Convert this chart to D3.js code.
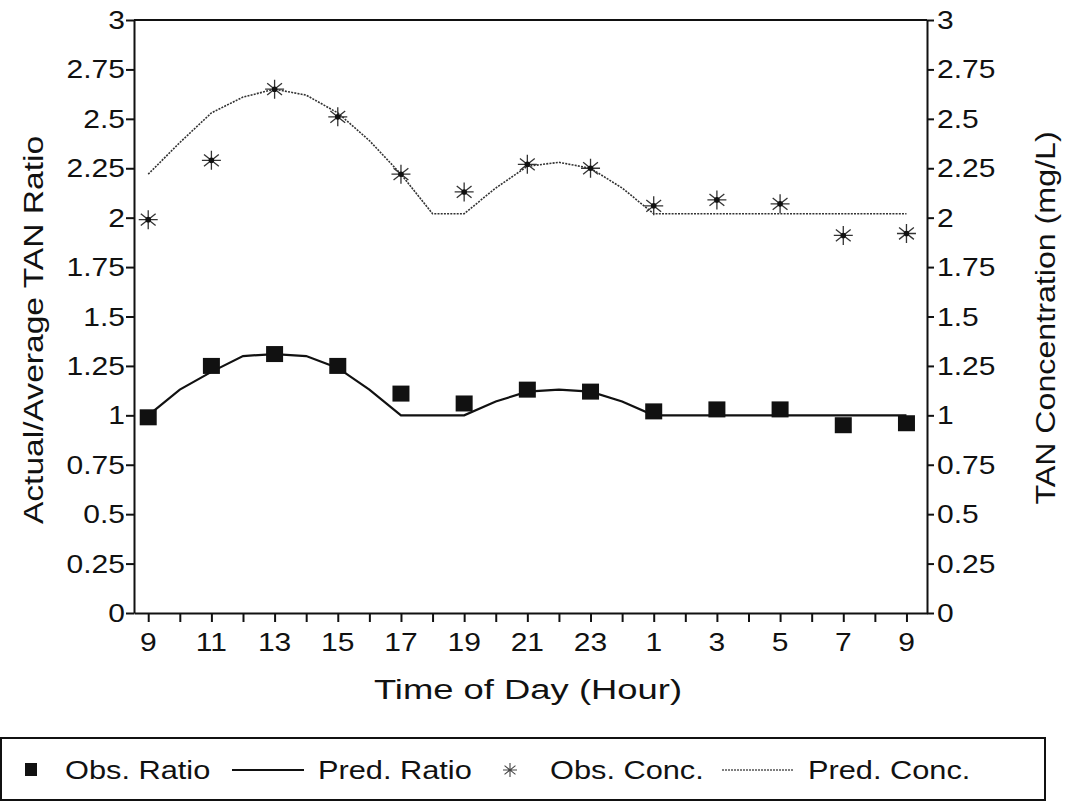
<!DOCTYPE html>
<html>
<head>
<meta charset="utf-8">
<script src="https://cdn.jsdelivr.net/npm/d3@7"></script>
<style>
  html, body { margin: 0; padding: 0; background: #fff; }
  svg text { font-family: "Liberation Sans", Arial, Helvetica, sans-serif; fill: #111; }
</style>
</head>
<body>
<svg id="chart" width="1065" height="806"></svg>
<script>
// Hours after 09:00 for the observations (every 2 h over one day)
const obsHours = [0, 2, 4, 6, 8, 10, 12, 14, 16, 18, 20, 22, 24];
const obsRatio = [0.99, 1.25, 1.31, 1.25, 1.11, 1.06, 1.13, 1.12, 1.02, 1.03, 1.03, 0.95, 0.96];
const obsConc  = [1.99, 2.29, 2.65, 2.51, 2.22, 2.13, 2.27, 2.25, 2.06, 2.09, 2.07, 1.91, 1.92];

// Hourly model predictions
const predHours = d3.range(0, 25);
const predRatio = [1.00, 1.13, 1.22, 1.30, 1.31, 1.30, 1.24, 1.13, 1.00, 1.00, 1.00, 1.07, 1.12,
                   1.13, 1.12, 1.07, 1.00, 1.00, 1.00, 1.00, 1.00, 1.00, 1.00, 1.00, 1.00];
const predConc  = [2.22, 2.38, 2.53, 2.61, 2.65, 2.62, 2.53, 2.39, 2.22, 2.02, 2.02, 2.15, 2.26,
                   2.28, 2.25, 2.15, 2.02, 2.02, 2.02, 2.02, 2.02, 2.02, 2.02, 2.02, 2.02];

// Axis ticks and labels
const xTickHours  = [0, 2, 4, 6, 8, 10, 12, 14, 16, 18, 20, 22, 24];
const xTickLabels = ["9", "11", "13", "15", "17", "19", "21", "23", "1", "3", "5", "7", "9"];
const xMinorHours = d3.range(1, 24, 2);
const yTicks      = [0, 0.25, 0.5, 0.75, 1, 1.25, 1.5, 1.75, 2, 2.25, 2.5, 2.75, 3];
const yTickLabels = ["0", "0.25", "0.5", "0.75", "1", "1.25", "1.5", "1.75", "2", "2.25", "2.5", "2.75", "3"];

const legendItems = [
  { key: "obsRatio",  label: "Obs. Ratio"  },
  { key: "predRatio", label: "Pred. Ratio" },
  { key: "obsConc",   label: "Obs. Conc."  },
  { key: "predConc",  label: "Pred. Conc." }
];

const svg = d3.select("#chart");
const pL = 134, pR = 927, pT = 20, pB = 613;
const FS = 25, SX = 1.2;   // tick font size and horizontal glyph stretch

const x = d3.scaleLinear().domain([-0.45, 24.65]).range([pL, pR]);
const yL = d3.scaleLinear().domain([0, 3]).range([pB, pT]);
const yR = d3.scaleLinear().domain([0, 3]).range([pB, pT]);

function label(g, txt, tx, ty, anchor, rot, fs = FS, sx = SX) {
  return g.append("text")
    .attr("transform", `translate(${tx},${ty})` + (rot ? ` rotate(${rot})` : "") + ` scale(${sx},1)`)
    .attr("text-anchor", anchor)
    .attr("font-size", fs)
    .text(txt);
}

// Axes (ticks only, labels drawn separately)
const axG = svg.append("g");
axG.append("g").attr("transform", `translate(${pL},0)`)
  .call(d3.axisLeft(yL).tickValues(yTicks).tickFormat("").tickSize(8).tickSizeOuter(0));
axG.append("g").attr("transform", `translate(${pR},0)`)
  .call(d3.axisRight(yR).tickValues(yTicks).tickFormat("").tickSize(7).tickSizeOuter(0));
axG.append("g").attr("transform", `translate(0,${pB})`)
  .call(d3.axisBottom(x).tickValues(xTickHours.concat(xMinorHours)).tickFormat("").tickSize(9).tickSizeOuter(0));
axG.selectAll("path.domain").attr("stroke", "#111").attr("stroke-width", 2);
axG.selectAll(".tick line").attr("stroke", "#111").attr("stroke-width", 2);
// top frame line
svg.append("line").attr("x1", pL).attr("x2", pR).attr("y1", pT).attr("y2", pT)
  .attr("stroke", "#111").attr("stroke-width", 2);

// Tick labels
const lab = svg.append("g");
yTicks.forEach((v, i) => {
  label(lab, yTickLabels[i], pL - 9, yL(v) + FS * 0.36, "end");
  label(lab, yTickLabels[i], pR + 10, yR(v) + FS * 0.36, "start");
});
xTickHours.forEach((h, i) => label(lab, xTickLabels[i], x(h), 651, "middle"));

// Axis titles
label(lab, "Time of Day (Hour)", 528, 699, "middle", 0, 28, 1.3);
label(lab, "Actual/Average TAN Ratio", 43, 330, "middle", -90, 28, 1.2);
label(lab, "TAN Concentration (mg/L)", 1055, 318, "middle", -90, 28, 1.15);

// Series
const plot = svg.append("g");
const lineRatio = d3.line().x((d, i) => x(predHours[i])).y(d => yL(d));
const lineConc  = d3.line().x((d, i) => x(predHours[i])).y(d => yR(d));

plot.append("path").datum(predConc).attr("d", lineConc)
  .attr("fill", "none").attr("stroke", "#333").attr("stroke-width", 1.6)
  .attr("stroke-dasharray", "2,1.2");
plot.append("path").datum(predRatio).attr("d", lineRatio)
  .attr("fill", "none").attr("stroke", "#111").attr("stroke-width", 2.2);

const SQ = 17;
plot.selectAll("rect.obs").data(obsRatio).join("rect").attr("class", "obs")
  .attr("x", (d, i) => x(obsHours[i]) - SQ / 2)
  .attr("y", d => yL(d) - SQ / 2 + 0.5)
  .attr("width", SQ).attr("height", SQ - 1).attr("fill", "#111");

function starPath(r) {
  const a = 0.62 * r, b = 0.78 * r;
  return `M${-r},0L${r},0M0,${-r}L0,${r}M${-b},${-a}L${b},${a}M${-b},${a}L${b},${-a}`;
}
const stars = plot.selectAll("g.star").data(obsConc).join("g").attr("class", "star")
  .attr("transform", (d, i) => `translate(${x(obsHours[i])},${yR(d)})`);
stars.append("path").attr("d", starPath(9.5)).attr("stroke", "#333").attr("stroke-width", 1.3).attr("fill", "none");
stars.append("circle").attr("r", 2.8).attr("fill", "#111");

// Legend
const lg = svg.append("g");
lg.append("path").attr("d", "M1,738H1045V800H1Z")
  .attr("fill", "none").attr("stroke", "#111").attr("stroke-width", 2);
const ly = 770;
const pos = { obsRatio: [31, 65], predRatio: [232, 318], obsConc: [510, 550], predConc: [722, 808] };
legendItems.forEach(it => {
  const [sx, tx] = pos[it.key];
  if (it.key === "obsRatio") {
    lg.append("rect").attr("x", sx - 6).attr("y", ly - 7).attr("width", 12).attr("height", 13).attr("fill", "#111");
  } else if (it.key === "predRatio") {
    lg.append("line").attr("x1", sx).attr("x2", sx + 72).attr("y1", ly).attr("y2", ly)
      .attr("stroke", "#111").attr("stroke-width", 2);
  } else if (it.key === "obsConc") {
    lg.append("path").attr("transform", `translate(${sx},${ly})`).attr("d", starPath(7))
      .attr("stroke", "#444").attr("stroke-width", 1.1).attr("fill", "none");
  } else {
    lg.append("line").attr("x1", sx).attr("x2", sx + 72).attr("y1", ly).attr("y2", ly)
      .attr("stroke", "#555").attr("stroke-width", 1.6).attr("stroke-dasharray", "2,1");
  }
  label(lg, it.label, tx, ly + 9, "start", 0, 25, 1.23);
});
</script>
</body>
</html>
